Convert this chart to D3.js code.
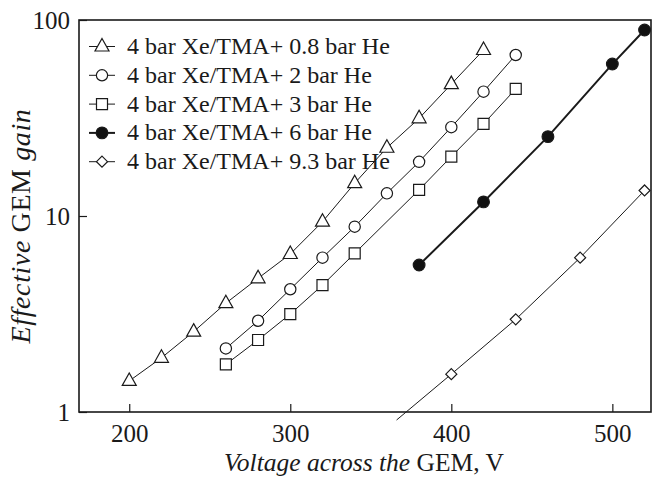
<!DOCTYPE html>
<html>
<head>
<meta charset="utf-8">
<script src="https://cdn.jsdelivr.net/npm/d3@7"></script>
<style>
    body { margin: 0; background: white; }
</style>
</head>
<body>
<div id="container"></div>
<script>
// values
let xTicks = [200, 300, 400, 500];
let yTicks = [1, 10, 100];

let labels = [
    '4 bar Xe/TMA+ 0.8 bar He',
    '4 bar Xe/TMA+ 2 bar He',
    '4 bar Xe/TMA+ 3 bar He',
    '4 bar Xe/TMA+ 6 bar He',
    '4 bar Xe/TMA+ 9.3 bar He'
];

let voltHe08 = [200, 220, 240, 260, 280, 300, 320, 340, 360, 380, 400, 420];
let gainHe08 = [1.44, 1.89, 2.57, 3.59, 4.81, 6.40, 9.35, 14.7, 22.3, 31.5, 47.1, 70.3];

let voltHe2 = [260, 280, 300, 320, 340, 360, 380, 400, 420, 440];
let gainHe2 = [2.11, 2.92, 4.23, 6.13, 8.82, 13.05, 18.9, 28.4, 43.1, 66.3];

let voltHe3 = [260, 280, 300, 320, 340, 380, 400, 420, 440];
let gainHe3 = [1.75, 2.33, 3.16, 4.44, 6.45, 13.6, 20.1, 29.5, 44.5];

let voltHe6 = [380, 420, 460, 500, 520];
let gainHe6 = [5.62, 11.8, 25.4, 59.6, 88.9];

let voltHe93 = [400, 440, 480, 520];
let gainHe93 = [1.56, 2.97, 6.13, 13.5];
// the fit line of the last curve runs on below the axis
let tailVolt = [366, 400];
let tailGain = [0.91, 1.56];

const serif = "'Liberation Serif', 'Times New Roman', serif";

let viz = d3.select('#container')
    .append('svg')
    .attr('width', 656)
    .attr('height', 480)
    ;

let x = d3.scaleLinear().domain([168.8, 524]).range([79, 651]);
let y = d3.scaleLog().domain([1, 100]).range([412, 20]);

function pts(volts, gains) {
    return volts.map((v, i) => ({ v: v, g: gains[i] }));
}

let series = [
    { data: pts(voltHe08, gainHe08), shape: 'triangle', fill: 'white', width: 1 },
    { data: pts(voltHe2, gainHe2), shape: 'circle', fill: 'white', width: 1 },
    { data: pts(voltHe3, gainHe3), shape: 'square', fill: 'white', width: 1 },
    { data: pts(voltHe6, gainHe6), shape: 'dot', fill: '#111', width: 2 },
    { data: pts(voltHe93, gainHe93), shape: 'diamond', fill: 'white', width: 1 }
];

function markerPath(shape) {
    if (shape == 'triangle') {
        return 'M 0 -8 L 7 4.5 L -7 4.5 z'
    }
    if (shape == 'circle') {
        return d3.symbol(d3.symbolCircle, 100)()
    }
    if (shape == 'square') {
        return 'M -5.5 -5.5 L 5.5 -5.5 L 5.5 5.5 L -5.5 5.5 z'
    }
    if (shape == 'dot') {
        return d3.symbol(d3.symbolCircle, 108)()
    }
    if (shape == 'diamond') {
        return 'M 0 -5.5 L 5.5 0 L 0 5.5 L -5.5 0 z'
    }
}

let line = d3.line()
    .x(d => x(d.v))
    .y(d => y(d.g));

// tail of the 9.3 bar curve
viz.append('path')
    .attr('d', line(pts(tailVolt, tailGain)))
    .attr('fill', 'none')
    .attr('stroke', '#1a1a1a')
    .attr('stroke-width', 1);

let groups = viz.selectAll('.series').data(series).enter()
    .append('g')
    .attr('class', 'series');

groups.append('path')
    .attr('d', d => line(d.data))
    .attr('fill', 'none')
    .attr('stroke', '#1a1a1a')
    .attr('stroke-width', d => d.width);

groups.each(function (s) {
    d3.select(this).selectAll('.mark').data(s.data).enter()
        .append('path')
        .attr('class', 'mark')
        .attr('d', markerPath(s.shape))
        .attr('transform', d => 'translate(' + x(d.v) + ',' + y(d.g) + ')')
        .attr('fill', s.fill)
        .attr('stroke', '#1a1a1a')
        .attr('stroke-width', 1.2);
});

// axes
let xAxis = viz.append('g')
    .attr('transform', 'translate(0,412)')
    .call(d3.axisBottom(x).tickValues(xTicks).tickSizeInner(-8).tickSizeOuter(0).tickPadding(12));

let yAxis = viz.append('g')
    .attr('transform', 'translate(79,0)')
    .call(d3.axisLeft(y).tickValues(yTicks).tickFormat(d3.format('d')).tickSizeInner(-8).tickSizeOuter(0).tickPadding(9));

viz.selectAll('.domain').remove();
viz.selectAll('.tick line').attr('stroke', '#1a1a1a').attr('stroke-width', 1.2);
viz.selectAll('.tick text')
    .style('font-family', serif)
    .style('font-size', '25px')
    .attr('fill', '#1a1a1a');

// frame
viz.append('rect')
    .attr('x', 79)
    .attr('y', 20)
    .attr('width', 572)
    .attr('height', 392)
    .attr('fill', 'none')
    .attr('stroke', '#1a1a1a')
    .attr('stroke-width', 1.6);

// axis titles
let xTitle = viz.append('text')
    .attr('x', 364)
    .attr('y', 471)
    .attr('text-anchor', 'middle')
    .attr('fill', '#1a1a1a')
    .style('font-family', serif)
    .style('font-size', '25.5px');
xTitle.append('tspan').style('font-style', 'italic').text('Voltage across the ');
xTitle.append('tspan').text('GEM, V');

let yTitle = viz.append('text')
    .attr('transform', 'translate(30,226) rotate(-90)')
    .attr('text-anchor', 'middle')
    .attr('fill', '#1a1a1a')
    .style('font-family', serif)
    .style('font-size', '28px')
    .style('letter-spacing', '0.6px');
yTitle.append('tspan').style('font-style', 'italic').text('Effective ');
yTitle.append('tspan').text('GEM ');
yTitle.append('tspan').style('font-style', 'italic').text('gain');

// legend
let legend = viz.selectAll('.legend').data(series).enter()
    .append('g')
    .attr('class', 'legend')
    .attr('transform', (d, i) => 'translate(102,' + (46.5 + i * 28.8) + ')');

legend.append('line')
    .attr('x1', -13)
    .attr('x2', 13)
    .attr('stroke', '#1a1a1a')
    .attr('stroke-width', d => d.width);

legend.append('path')
    .attr('d', d => markerPath(d.shape))
    .attr('fill', d => d.fill)
    .attr('stroke', '#1a1a1a')
    .attr('stroke-width', 1.2);

legend.append('text')
    .attr('x', 25)
    .attr('y', 7.5)
    .attr('fill', '#1a1a1a')
    .style('font-family', serif)
    .style('font-size', '24px')
    .text((d, i) => labels[i]);
</script>
</body>
</html>
